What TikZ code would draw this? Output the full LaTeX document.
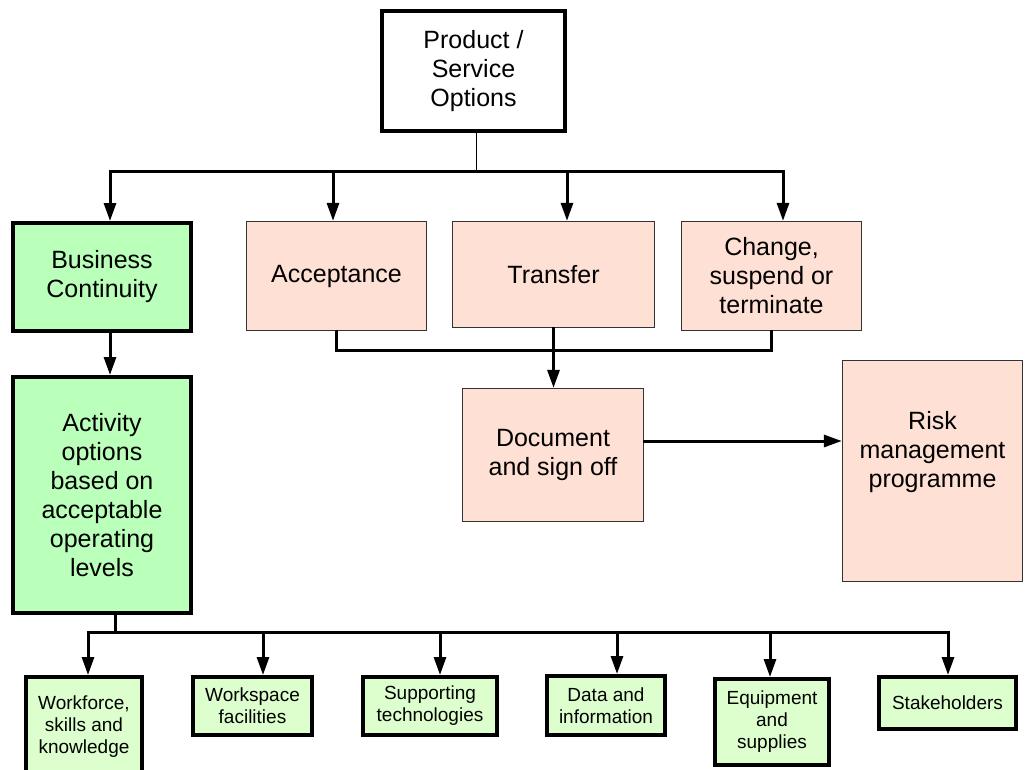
\documentclass[tikz,border=0pt]{standalone}
\usepackage{fontspec}
\setmainfont{Liberation Sans}
\usetikzlibrary{arrows.meta}
\definecolor{bcgreen}{RGB}{186,255,186}
\definecolor{leafgreen}{RGB}{221,255,206}
\definecolor{salmon}{RGB}{255,224,212}

\tikzset{
  box/.style={draw, align=center, inner sep=2pt, font=\fontsize{25}{29}\selectfont},
  boldbox/.style={box, line width=4pt},
  pinkbox/.style={box, fill=salmon, draw=black!80, line width=1.3pt},
  greenbox/.style={boldbox, fill=bcgreen},
  leafbox/.style={boldbox, fill=leafgreen, font=\fontsize{19}{22}\selectfont},
  bus/.style={line width=3pt, line cap=rect},
  link/.style={bus, -{Triangle[length=18pt,width=12pt]}},
}

\begin{document}
\begin{tikzpicture}[x=1pt, y=-1pt]
    \useasboundingbox (0,0) rectangle (1025,769);

    % Top box
    \node[boldbox, fill=white, minimum width=183pt, minimum height=120pt] (top) at (473.5,71) {Product /\\Service\\Options};

    % Second row
    \node[greenbox, minimum width=178pt, minimum height=108pt] (bc) at (102,277) {Business\\Continuity};
    \node[pinkbox, minimum width=180pt, minimum height=109pt] (accept) at (336.5,276) {Acceptance};
    \node[pinkbox, minimum width=202pt, minimum height=106pt] (transfer) at (553.5,274.5) {Transfer};
    \node[pinkbox, minimum width=180pt, minimum height=109pt] (change) at (771.5,276) {Change,\\suspend or\\terminate};

    % Sign off and programme
    \node[pinkbox, minimum width=181pt, minimum height=133pt] (docsign) at (553,455) {Document\\and sign off};
    \node[pinkbox, minimum width=180pt, minimum height=221pt, text depth=44pt] (riskprog) at (932.5,471) {Risk\\management\\programme};

    % Activity options
    \node[greenbox, minimum width=178pt, minimum height=236pt] (activity) at (102,495) {Activity\\options\\based on\\acceptable\\operating\\levels};

    % Bottom row
    \node[leafbox, minimum width=116pt, minimum height=100pt] (workforce) at (84,727) {Workforce,\\skills and\\knowledge};
    \node[leafbox, minimum width=119pt, minimum height=58pt] (workspace) at (252.5,706) {Workspace\\facilities};
    \node[leafbox, minimum width=134pt, minimum height=58pt] (support) at (430,706) {Supporting\\technologies};
    \node[leafbox, minimum width=118pt, minimum height=59pt] (datainfo) at (606,705.5) {Data and\\information};
    \node[leafbox, minimum width=114pt, minimum height=86pt] (equip) at (772,722) {Equipment\\and\\supplies};
    \node[leafbox, minimum width=137pt, minimum height=52pt] (stakeholders) at (947.5,703) {Stakeholders};

    % Upper bus
    \coordinate (topbus) at (476,171);
    \draw[line width=1pt] (top.south -| topbus) -- (topbus);
    \draw[bus] ([xshift=8pt]bc.north |- topbus) -- ([xshift=11.5pt]change.north |- topbus);
    \foreach \n/\dx in {bc/8, accept/-3.5, transfer/13.5, change/11.5}
        \draw[link] ([xshift=\dx pt]\n.north |- topbus) -- ([xshift=\dx pt]\n.north);

    % Merge into sign off
    \coordinate (merge) at (553,350);
    \draw[bus] (accept.south) |- (change.south |- merge) -- (change.south);
    \draw[link] (transfer.south) -- (transfer.south |- docsign.north);
    \coordinate (docout) at ([yshift=14pt]docsign.east);
    \draw[link] (docout) -- (riskprog.west |- docout);

    % Continuity to activities
    \draw[link] ([xshift=8pt]bc.south) -- ([xshift=8pt]activity.north);

    % Lower bus
    \coordinate (lowbus) at (0,632);
    \draw[bus] ([xshift=13pt]activity.south) -- ([xshift=13pt]activity.south |- lowbus);
    \draw[bus] ([xshift=4pt]workforce.north |- lowbus) -- ([xshift=0.5pt]stakeholders.north |- lowbus);
    \foreach \n/\dx in {workforce/4, workspace/10.5, support/10, datainfo/11, equip/-2, stakeholders/0.5}
        \draw[link] ([xshift=\dx pt]\n.north |- lowbus) -- ([xshift=\dx pt]\n.north);
\end{tikzpicture}
\end{document}
